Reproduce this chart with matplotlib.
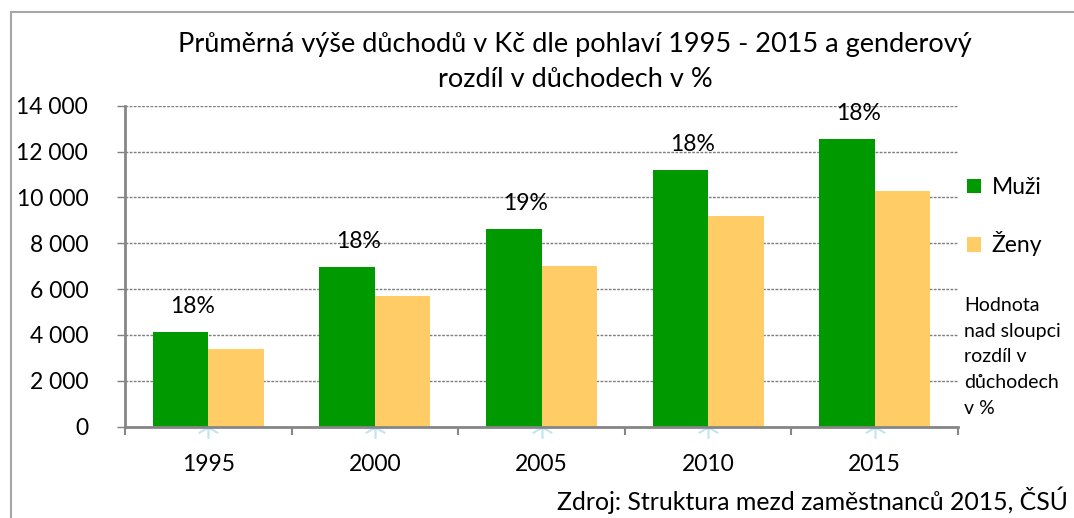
import numpy as np
import matplotlib.pyplot as plt
from matplotlib.patches import Rectangle
from matplotlib.ticker import FuncFormatter

# data
roky = ['1995', '2000', '2005', '2010', '2015']
muzi = [4140, 6960, 8620, 11200, 12550]
zeny = [3400, 5700, 7010, 9190, 10280]
rozdil = ['18%', '18%', '19%', '18%', '18%']

plt.rcParams['font.family'] = ['Lato', 'DejaVu Sans']

fig = plt.figure(figsize=(10.74, 5.18), dpi=100)
ax = fig.add_axes([125/1074, (518-426.7)/518, 833/1074, 321/518])

x = np.arange(len(roky))
w = 1/3
zelena = '#009900'
zluta = '#ffcc66'
seda = '#868686'

ax.bar(x - w/2, muzi, w, color=zelena, label='Muži', zorder=3)
ax.bar(x + w/2, zeny, w, color=zluta, label='Ženy', zorder=3)

# hidden helper series from the original (light blue markers at zero)
ax.plot(x, np.zeros(len(x)), linestyle='none', marker=(6, 2, 0), markersize=16,
        markeredgecolor='#c4e6f2', markeredgewidth=1.2, zorder=2, clip_on=False)

for i in range(len(x)):
    ax.annotate(rozdil[i], (x[i] - w/2, muzi[i]), xytext=(8.5, 18.5),
                textcoords='offset points', ha='center', va='center', fontsize=16.5)

ax.set_xlim(-0.5, len(x) - 0.5)
ax.set_ylim(0, 14000)
ax.set_yticks(np.arange(0, 14001, 2000))
ax.yaxis.set_major_formatter(FuncFormatter(lambda v, p: f'{int(v):,}'.replace(',', ' ')))
ax.grid(axis='y', color='#7f7f7f', linewidth=1.0, linestyle=(0, (2, 1)), zorder=1)

ax.set_xticks(np.arange(-0.5, len(x)), minor=False)
ax.set_xticklabels([])
ax.set_xticks(x, minor=True)
ax.set_xticklabels(roky, minor=True)
ax.tick_params(axis='x', which='major', length=6, width=1.5, color=seda, direction='out')
ax.tick_params(axis='x', which='minor', length=0, pad=20, labelsize=16.5)
ax.tick_params(axis='y', length=6, width=1.0, color='#7f7f7f', pad=20.5, labelsize=16.5)

for s in ['top', 'right']:
    ax.spines[s].set_visible(False)
for s in ['left', 'bottom']:
    ax.spines[s].set_color(seda)
    ax.spines[s].set_linewidth(2)
ax.spines['bottom'].set_zorder(4)

fig.text(575/1074, 1 - 62/518, 'Průměrná výše důchodů v Kč dle pohlaví 1995 - 2015 a genderový\nrozdíl v důchodech v %',
         ha='center', va='center', fontsize=19.5, linespacing=1.5)

leg = fig.legend(loc='upper left', bbox_to_anchor=(967/1074, 1 - 177/518), frameon=False,
                 fontsize=16.5, handlelength=0.62, handleheight=0.62, handletextpad=0.45,
                 labelspacing=1.45, borderpad=0, borderaxespad=0)

fig.text(964/1074, 1 - 357/518, 'Hodnota\nnad sloupci\nrozdíl v\ndůchodech\nv %',
         ha='left', va='center', fontsize=14, linespacing=1.63)

fig.text(1068/1074, 1 - 500/518, 'Zdroj: Struktura mezd zaměstnanců 2015, ČSÚ',
         ha='right', va='center', fontsize=17.9)

fig.patches.append(Rectangle((11/1074, -0.1), 1.2, 1 - 12/518 + 0.1, transform=fig.transFigure,
                             fill=False, edgecolor='#a6a6a6', linewidth=1.5))

fig.savefig('out.png', dpi=100)
